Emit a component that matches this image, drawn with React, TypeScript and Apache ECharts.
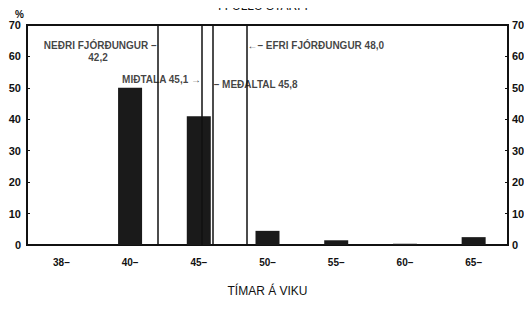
import React, { useEffect, useRef } from "react";
import * as echarts from "echarts";

const categories = ["38–", "40–", "45–", "50–", "55–", "60–", "65–"];
const percentages = [0, 50, 41, 4.5, 1.5, 0.4, 2.5];
const yTicks = [0, 10, 20, 30, 40, 50, 60, 70];
const statValues = [42.2, 45.1, 45.8, 48.0];
// annotations: [x value, y value, text, side]
const annotations: [number, number, string, string][] = [
  [42.2, 63.4, "NEÐRI FJÓRÐUNGUR –", "left"],
  [38.3, 59.8, "42,2", "center"],
  [45.1, 52.6, "MIÐTALA 45,1 →", "left"],
  [45.8, 51.2, "– MEÐALTAL 45,8", "right"],
  [48.0, 63.4, "←– EFRI FJÓRÐUNGUR 48,0", "right"],
];

const FONT = "Liberation Sans, Arial, sans-serif";

export default function App() {
  const ref = useRef<HTMLDivElement>(null);
  useEffect(() => {
    if (!ref.current) return;
    const chart = echarts.init(ref.current, null, { renderer: "svg" });
    const labelStyle = { fontFamily: FONT, fontWeight: "bold" as const, color: "#111" };
    chart.setOption({
      animation: false,
      backgroundColor: "#fff",
      grid: {
        left: 27,
        right: 24,
        top: 25,
        bottom: 74,
        show: true,
        borderColor: "#111",
        borderWidth: 2,
      },
      graphic: [
        {
          type: "text",
          left: 218,
          top: 0,
          style: { text: "Í FULLU STARFI", font: `12px ${FONT}`, fill: "#111" },
        },
        {
          type: "text",
          left: 15,
          top: 9,
          style: { text: "%", font: `bold 10px ${FONT}`, fill: "#111" },
        },
      ],
      xAxis: [
        {
          type: "category",
          data: categories,
          boundaryGap: true,
          axisLine: { show: true, lineStyle: { color: "#111", width: 2 } },
          axisTick: { show: false },
          axisLabel: { ...labelStyle, fontSize: 10, margin: 12 },
          name: "TÍMAR Á VIKU",
          nameLocation: "middle",
          nameGap: 40,
          nameTextStyle: { fontFamily: FONT, fontSize: 12, color: "#111" },
        },
        {
          type: "value",
          show: false,
          min: 33.66,
          max: 65.1,
          position: "bottom",
        },
      ],
      yAxis: [
        {
          type: "value",
          min: 0,
          max: 70,
          interval: 10,
          position: "left",
          splitLine: { show: false },
          axisLine: { show: true, lineStyle: { color: "#111", width: 2 } },
          axisTick: { show: true, inside: true, length: 3, lineStyle: { color: "#111" } },
          axisLabel: {
            ...labelStyle,
            fontSize: 11,
            margin: 6,
            formatter: (v: number) => (yTicks.includes(v) ? String(v) : ""),
          },
        },
        {
          type: "value",
          min: 0,
          max: 70,
          interval: 10,
          position: "right",
          splitLine: { show: false },
          axisLine: { show: true, lineStyle: { color: "#111", width: 2 } },
          axisTick: { show: true, inside: true, length: 3, lineStyle: { color: "#111" } },
          axisLabel: { ...labelStyle, fontSize: 11, margin: 4 },
        },
      ],
      series: [
        {
          type: "bar",
          data: percentages,
          xAxisIndex: 0,
          yAxisIndex: 0,
          barWidth: 24,
          itemStyle: { color: "#1a1a1a" },
        },
        {
          type: "scatter",
          xAxisIndex: 1,
          yAxisIndex: 0,
          symbolSize: 0,
          data: annotations.map((a) => ({
            value: [a[0], a[1]],
            label: {
              show: true,
              formatter: a[2],
              position: a[3] === "center" ? "inside" : a[3],
              distance: 1,
              fontFamily: FONT,
              fontWeight: "bold",
              fontSize: 10,
              color: "#111",
            },
          })),
          markLine: {
            silent: true,
            symbol: "none",
            label: { show: false },
            lineStyle: { color: "#111", width: 1.5, type: "solid" },
            data: statValues.map((v) => ({ xAxis: v })),
          },
        },
      ],
    });
    return () => chart.dispose();
  }, []);
  return <div ref={ref} style={{ width: 532, height: 319, margin: -8 }} />;
}
